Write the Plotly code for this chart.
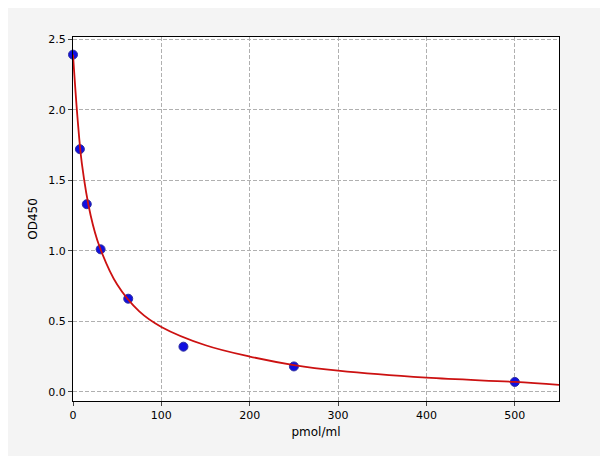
import plotly.graph_objects as go

conc = [0, 7.8, 15.6, 31.25, 62.5, 125, 250, 500]
od = [2.39, 1.72, 1.33, 1.01, 0.66, 0.32, 0.18, 0.07]
curve_x = [0, 5, 10, 20, 30, 50, 75, 100, 150, 200, 250, 300, 400, 500, 550]
curve_y = [2.39, 1.95, 1.62, 1.25, 1.03, 0.76, 0.57, 0.46, 0.33, 0.25, 0.19, 0.15, 0.10, 0.07, 0.05]

fig = go.Figure()
fig.add_trace(go.Scatter(x=conc, y=od, mode="markers", cliponaxis=False,
                         marker=dict(color="#1010e0", size=9, line=dict(color="#3030a0", width=1))))
fig.add_trace(go.Scatter(x=curve_x, y=curve_y, mode="lines", line=dict(color="#cc1111", width=1.8, shape="spline")))

axis = dict(showline=True, linecolor="black", mirror=True, ticks="outside", ticklen=4,
            showgrid=True, gridcolor="#b0b0b0", griddash="4px,2px", gridwidth=1, zeroline=False,
            tickfont=dict(size=11, color="black"))
fig.update_layout(
    width=608, height=456, showlegend=False,
    paper_bgcolor="#f4f4f4", plot_bgcolor="white",
    margin=dict(l=65, r=57, t=29, b=63),
    font=dict(family="DejaVu Sans", color="black"),
    xaxis=dict(axis, range=[0, 550], tickvals=[0, 100, 200, 300, 400, 500],
               title=dict(text="pmol/ml", font=dict(size=12), standoff=6)),
    yaxis=dict(axis, range=[-0.065, 2.515], tickvals=[0, 0.5, 1, 1.5, 2, 2.5], tickformat=".1f",
               title=dict(text="OD450", font=dict(size=12), standoff=8)),
)
fig.write_html("out.html")
